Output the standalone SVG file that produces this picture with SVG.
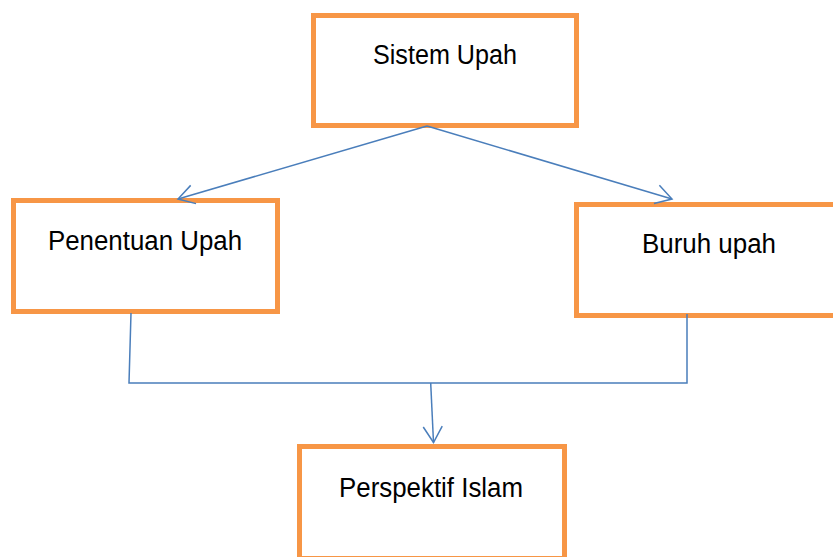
<svg xmlns="http://www.w3.org/2000/svg" width="833" height="557" viewBox="0 0 833 557">
<style>
.box{fill:#FFFFFF;stroke:#F79646;stroke-width:5}
.lbl{font-family:"Liberation Sans",Arial,sans-serif;font-size:27px;fill:#000000}
.con{fill:none;stroke:#4A7EBB;stroke-width:1.5}
</style>
<defs>
<marker id="arr" markerUnits="userSpaceOnUse" viewBox="-18 -11 20 22" refX="0" refY="0" markerWidth="20" markerHeight="22" orient="auto" overflow="visible">
<path d="M-16,-9.5 L0,0 L-16,9.5" fill="none" stroke="#4A7EBB" stroke-width="1.5"/>
</marker>
</defs>
<rect width="833" height="557" fill="#FFFFFF"/>
<g id="node-sistem-upah">
<rect class="box" x="313.5" y="15.5" width="263" height="110"/>
<text class="lbl" x="373" y="64" textLength="144" lengthAdjust="spacingAndGlyphs">Sistem Upah</text>
</g>
<g id="node-penentuan-upah">
<rect class="box" x="13.5" y="200.5" width="264" height="111"/>
<text class="lbl" x="48" y="250" textLength="194" lengthAdjust="spacingAndGlyphs">Penentuan Upah</text>
</g>
<g id="node-buruh-upah">
<rect class="box" x="576.5" y="204.5" width="266" height="111"/>
<text class="lbl" x="642" y="253" textLength="134" lengthAdjust="spacingAndGlyphs">Buruh upah</text>
</g>
<g id="node-perspektif-islam">
<rect class="box" x="299.5" y="446.5" width="265" height="112"/>
<text class="lbl" x="339" y="497" textLength="184" lengthAdjust="spacingAndGlyphs">Perspektif Islam</text>
</g>
<g id="connectors">
<line class="con" x1="427" y1="126" x2="178" y2="199" marker-end="url(#arr)"/>
<line class="con" x1="427" y1="126" x2="672" y2="199" marker-end="url(#arr)"/>
<polyline class="con" points="131,313 129,383 687,383 687,314"/>
<line class="con" x1="430.7" y1="383" x2="433.5" y2="442.5" marker-end="url(#arr)"/>
</g>
</svg>
